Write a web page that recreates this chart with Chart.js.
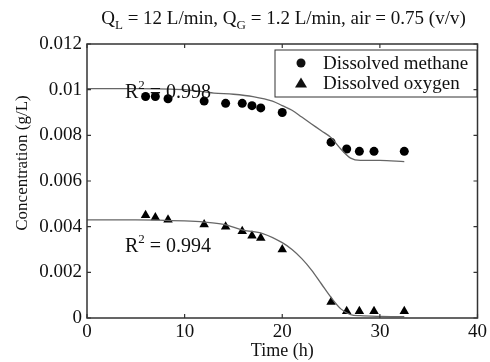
<!DOCTYPE html>
<html>
<head>
<meta charset="utf-8">
<script src="https://cdn.jsdelivr.net/npm/chart.js@4/dist/chart.umd.min.js"></script>
<style>
  html, body { margin: 0; padding: 0; background: #fff; }
  #wrap { width: 490px; height: 362px; position: relative; }
</style>
</head>
<body>
<div id="wrap"><canvas id="chart" width="490" height="362"></canvas></div>
<script>
// measured points
const sampleTime = [6.0, 7.0, 8.3, 12.0, 14.2, 15.9, 16.9, 17.8, 20.0, 25.0, 26.6, 27.9, 29.4, 32.5];
const methane = [0.0097, 0.0097, 0.0096, 0.0095, 0.0094, 0.0094, 0.0093, 0.0092, 0.0090, 0.0077, 0.0074, 0.0073, 0.0073, 0.0073];
const oxygen = [0.0045, 0.0044, 0.0043, 0.0041, 0.0040, 0.0038, 0.0036, 0.0035, 0.0030, 0.0007, 0.0003, 0.0003, 0.0003, 0.0003];

// model fit curves
const methaneFitTime = [0, 5, 10, 13, 15, 17, 19, 20, 21, 22, 23, 24, 25, 26, 27, 28, 30, 32.5];
const methaneFit = [0.01005, 0.01005, 0.0100, 0.00985, 0.0098, 0.0097, 0.0095, 0.0093, 0.0091, 0.0088, 0.0085, 0.0082, 0.0079, 0.0074, 0.0070, 0.0069, 0.0069, 0.00685];
const oxygenFitTime = [0, 5, 10, 12, 14, 16, 18, 20, 21, 22, 23, 24, 25, 26, 27, 28, 30, 32.5];
const oxygenFit = [0.0043, 0.0043, 0.00425, 0.0042, 0.0041, 0.00385, 0.0037, 0.0033, 0.0030, 0.0026, 0.0021, 0.0015, 0.0009, 0.0004, 0.00015, 0.0001, 0.00007, 0.00006];

const seriesNames = ['Dissolved methane', 'Dissolved oxygen'];
const r2Labels = ['0.998', '0.994'];
const xTicks = [0, 10, 20, 30, 40];
const yTicks = [0, 0.002, 0.004, 0.006, 0.008, 0.01, 0.012];

const serif = '"Liberation Serif", "DejaVu Serif", serif';
const ink = '#111';

const toXY = (xs, ys) => xs.map((x, i) => ({x: x, y: ys[i]}));

// inward ticks on all four sides, closed box
const frame = {
  id: 'frame',
  afterDatasetsDraw(chart) {
    const {ctx, chartArea: a, scales: {x, y}} = chart;
    ctx.save();
    ctx.strokeStyle = '#333';
    ctx.lineWidth = 1.5;
    ctx.strokeRect(a.left, a.top, a.right - a.left, a.bottom - a.top);
    ctx.lineWidth = 1.2;
    ctx.beginPath();
    xTicks.forEach(v => {
      const px = x.getPixelForValue(v);
      ctx.moveTo(px, a.bottom); ctx.lineTo(px, a.bottom - 4);
      ctx.moveTo(px, a.top); ctx.lineTo(px, a.top + 4);
    });
    yTicks.forEach(v => {
      const py = y.getPixelForValue(v);
      ctx.moveTo(a.left, py); ctx.lineTo(a.left + 4, py);
      ctx.moveTo(a.right, py); ctx.lineTo(a.right - 4, py);
    });
    ctx.stroke();
    ctx.restore();
  },
  afterDraw(chart) {
    const {ctx, scales: {x, y}} = chart;
    ctx.save();
    ctx.fillStyle = ink;
    ctx.textBaseline = 'alphabetic';

    // title with subscripts
    const big = '19px ' + serif, small = '13px ' + serif;
    const parts = [['Q', big, 0], ['L', small, 5], [' = 12 L/min, Q', big, 0], ['G', small, 5], [' = 1.2 L/min, air = 0.75 (v/v)', big, 0]];
    let w = 0;
    parts.forEach(p => { ctx.font = p[1]; w += ctx.measureText(p[0]).width; });
    let cx = 283.5 - w / 2;
    parts.forEach(p => {
      ctx.font = p[1];
      ctx.fillText(p[0], cx, 24 + p[2]);
      cx += ctx.measureText(p[0]).width;
    });

    // R^2 labels
    const r2Pos = [[125, 98], [125, 252]];
    r2Pos.forEach((p, i) => {
      let px = p[0];
      ctx.font = '20px ' + serif;
      ctx.fillText('R', px, p[1]);
      px += ctx.measureText('R').width;
      ctx.font = '13px ' + serif;
      ctx.fillText('2', px, p[1] - 9);
      px += ctx.measureText('2').width;
      ctx.font = '20px ' + serif;
      ctx.fillText(' = ' + r2Labels[i], px, p[1]);
    });

    // y axis title
    ctx.save();
    ctx.translate(23, 163);
    ctx.rotate(-Math.PI / 2);
    ctx.textAlign = 'center';
    ctx.textBaseline = 'middle';
    ctx.font = '17px ' + serif;
    ctx.fillText('Concentration (g/L)', 0, 0);
    ctx.restore();

    // legend box
    ctx.strokeStyle = '#333';
    ctx.lineWidth = 1;
    ctx.strokeRect(275, 50, 202, 47);
    ctx.font = '19px ' + serif;
    ctx.fillText(seriesNames[0], 323, 69);
    ctx.fillText(seriesNames[1], 323, 89);
    ctx.beginPath();
    ctx.arc(301, 63, 4.5, 0, Math.PI * 2);
    ctx.fill();
    ctx.beginPath();
    ctx.moveTo(301, 77.5); ctx.lineTo(307, 87.5); ctx.lineTo(295, 87.5);
    ctx.closePath();
    ctx.fill();
    ctx.restore();
  }
};

new Chart(document.getElementById('chart'), {
  type: 'scatter',
  data: {
    datasets: [
      {
        label: seriesNames[0] + ' fit',
        data: toXY(methaneFitTime, methaneFit),
        showLine: true,
        borderColor: '#666',
        borderWidth: 1.3,
        pointRadius: 0,
        cubicInterpolationMode: 'monotone'
      },
      {
        label: seriesNames[1] + ' fit',
        data: toXY(oxygenFitTime, oxygenFit),
        showLine: true,
        borderColor: '#666',
        borderWidth: 1.3,
        pointRadius: 0,
        cubicInterpolationMode: 'monotone'
      },
      {
        label: seriesNames[0],
        data: toXY(sampleTime, methane),
        pointStyle: 'circle',
        pointRadius: 4.5,
        backgroundColor: '#000',
        borderColor: '#000',
        borderWidth: 0
      },
      {
        label: seriesNames[1],
        data: toXY(sampleTime, oxygen),
        pointStyle: 'triangle',
        pointRadius: 5.5,
        backgroundColor: '#000',
        borderColor: '#000',
        borderWidth: 0
      }
    ]
  },
  options: {
    responsive: false,
    animation: false,
    layout: { padding: { top: 44, right: 8, left: 0, bottom: 0 } },
    plugins: {
      legend: { display: false },
      tooltip: { enabled: false }
    },
    scales: {
      x: {
        type: 'linear',
        min: 0, max: 40,
        grid: { display: false, drawTicks: false },
        border: { display: false },
        afterBuildTicks: s => { s.ticks = xTicks.map(v => ({value: v})); },
        ticks: { color: ink, font: { family: serif, size: 19 }, padding: 3, maxRotation: 0 },
        title: { display: true, text: 'Time (h)', color: ink, font: { family: serif, size: 18 }, padding: { top: 0, bottom: 0 } },
        afterFit: s => { s.height = 44; }
      },
      y: {
        type: 'linear',
        min: 0, max: 0.012,
        grid: { display: false, drawTicks: false },
        border: { display: false },
        afterBuildTicks: s => { s.ticks = yTicks.map(v => ({value: v})); },
        ticks: {
          color: ink, font: { family: serif, size: 19 }, padding: 5,
          callback: v => v === 0 ? '0' : String(parseFloat(v.toFixed(3)))
        },
        afterFit: s => { s.width = 87; }
      }
    }
  },
  plugins: [frame]
});
</script>
</body>
</html>
